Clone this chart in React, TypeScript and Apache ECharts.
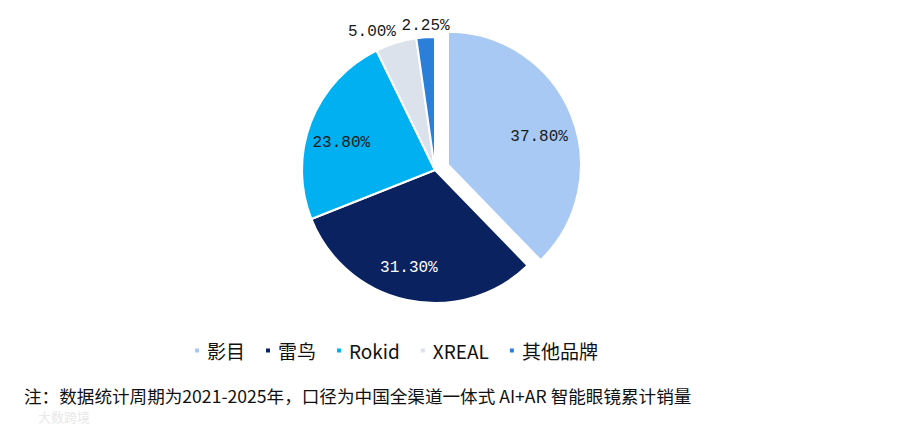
import React, { useEffect, useRef } from "react";
import * as echarts from "echarts";

const brands = ["影目", "雷鸟", "Rokid", "XREAL", "其他品牌"];
const shares = [37.8, 31.3, 23.8, 5.0, 2.25];
const colors = ["#A9C9F5", "#0B2260", "#00B0F0", "#DCE2EB", "#2C7FD8"];
const innerLabelColors = ["#1a1a1a", "#ffffff", "#1a1a1a", "#1a1a1a", "#1a1a1a"];
const innerLabelShown = [true, true, true, false, false];
const note = "注：数据统计周期为2021-2025年，口径为中国全渠道一体式 AI+AR 智能眼镜累计销量";
const watermark = "大数跨境";

const CJK = '"Noto Sans CJK SC", "Noto Sans", sans-serif';
const MONO = '"Liberation Mono", "DejaVu Sans Mono", monospace';

export default function App() {
  const ref = useRef<HTMLDivElement>(null);
  useEffect(() => {
    if (!ref.current) return;
    const chart = echarts.init(ref.current, undefined, { renderer: "svg" });
    const center = [435, 170];
    const R = 133;
    const fmt = (p: any) => Number(p.value).toFixed(2) + "%";
    const innerNudge = [
      [-2, 10],
      [-5, 0],
      [0, 9],
      [0, 0],
      [0, 0],
    ];

    const baseData = brands.map((name, i) => ({
      name,
      value: shares[i],
      selected: i === 0,
      itemStyle: { color: colors[i] },
    }));

    const innerData = brands.map((name, i) => ({
      name,
      value: shares[i],
      selected: i === 0,
      itemStyle: { color: "transparent", borderWidth: 0 },
      label: { show: innerLabelShown[i], color: innerLabelColors[i] },
    }));

    const outerData = brands.map((name, i) => ({
      name,
      value: shares[i],
      selected: i === 0,
      itemStyle: { color: "transparent", borderWidth: 0 },
      label: { show: !innerLabelShown[i] },
    }));

    chart.setOption({
      animation: false,
      legend: {
        data: brands.map((name, i) => ({ name, itemStyle: { color: colors[i] } })),
        left: 188,
        top: 336,
        icon: "rect",
        itemWidth: 6,
        itemHeight: 6,
        itemGap: 19,
        selectedMode: false,
        textStyle: { fontFamily: CJK, fontSize: 19, color: "#111", padding: [0, 0, 0, 2] },
      },
      title: {
        text: note,
        left: 24,
        top: 385,
        padding: 0,
        textStyle: { fontFamily: CJK, fontSize: 17.6, lineHeight: 20, fontWeight: "normal", color: "#111" },
      },
      graphic: [
        {
          type: "text",
          left: 38,
          top: 410,
          silent: true,
          style: { text: watermark, fontFamily: CJK, fontSize: 13, lineHeight: 13, fill: "#e8e8e8" },
        },
      ],
      series: [
        {
          type: "pie",
          center,
          radius: R,
          startAngle: 90,
          selectedMode: "single",
          selectedOffset: 14,
          avoidLabelOverlap: false,
          label: { show: false },
          labelLine: { show: false },
          itemStyle: { borderColor: "#ffffff", borderWidth: 2 },
          emphasis: { disabled: true },
          data: baseData,
        },
        {
          type: "pie",
          center,
          radius: [62, R],
          startAngle: 90,
          silent: true,
          selectedMode: "single",
          selectedOffset: 14,
          avoidLabelOverlap: false,
          label: { show: true, position: "inside", formatter: fmt, fontFamily: MONO, fontSize: 16 },
          labelLine: { show: false },
          labelLayout: (p: any) => ({ dx: innerNudge[p.dataIndex][0], dy: innerNudge[p.dataIndex][1] }),
          emphasis: { disabled: true },
          data: innerData,
        },
        {
          type: "pie",
          center,
          radius: R,
          startAngle: 90,
          silent: true,
          selectedMode: "single",
          selectedOffset: 14,
          avoidLabelOverlap: false,
          label: {
            show: true,
            position: "outside",
            formatter: fmt,
            fontFamily: MONO,
            fontSize: 16,
            color: "#1a1a1a",
            distanceToLabelLine: 0,
          },
          labelLine: { show: false, length: 0, length2: 0 },
          labelLayout: (p: any) => ({ dy: -11, align: p.dataIndex === 4 ? "center" : "right" }),
          emphasis: { disabled: true },
          data: outerData,
        },
      ],
    });
    return () => chart.dispose();
  }, []);
  return (
    <div
      ref={ref}
      style={{ position: "fixed", left: 0, top: 0, width: 900, height: 428, background: "#fff" }}
    />
  );
}
